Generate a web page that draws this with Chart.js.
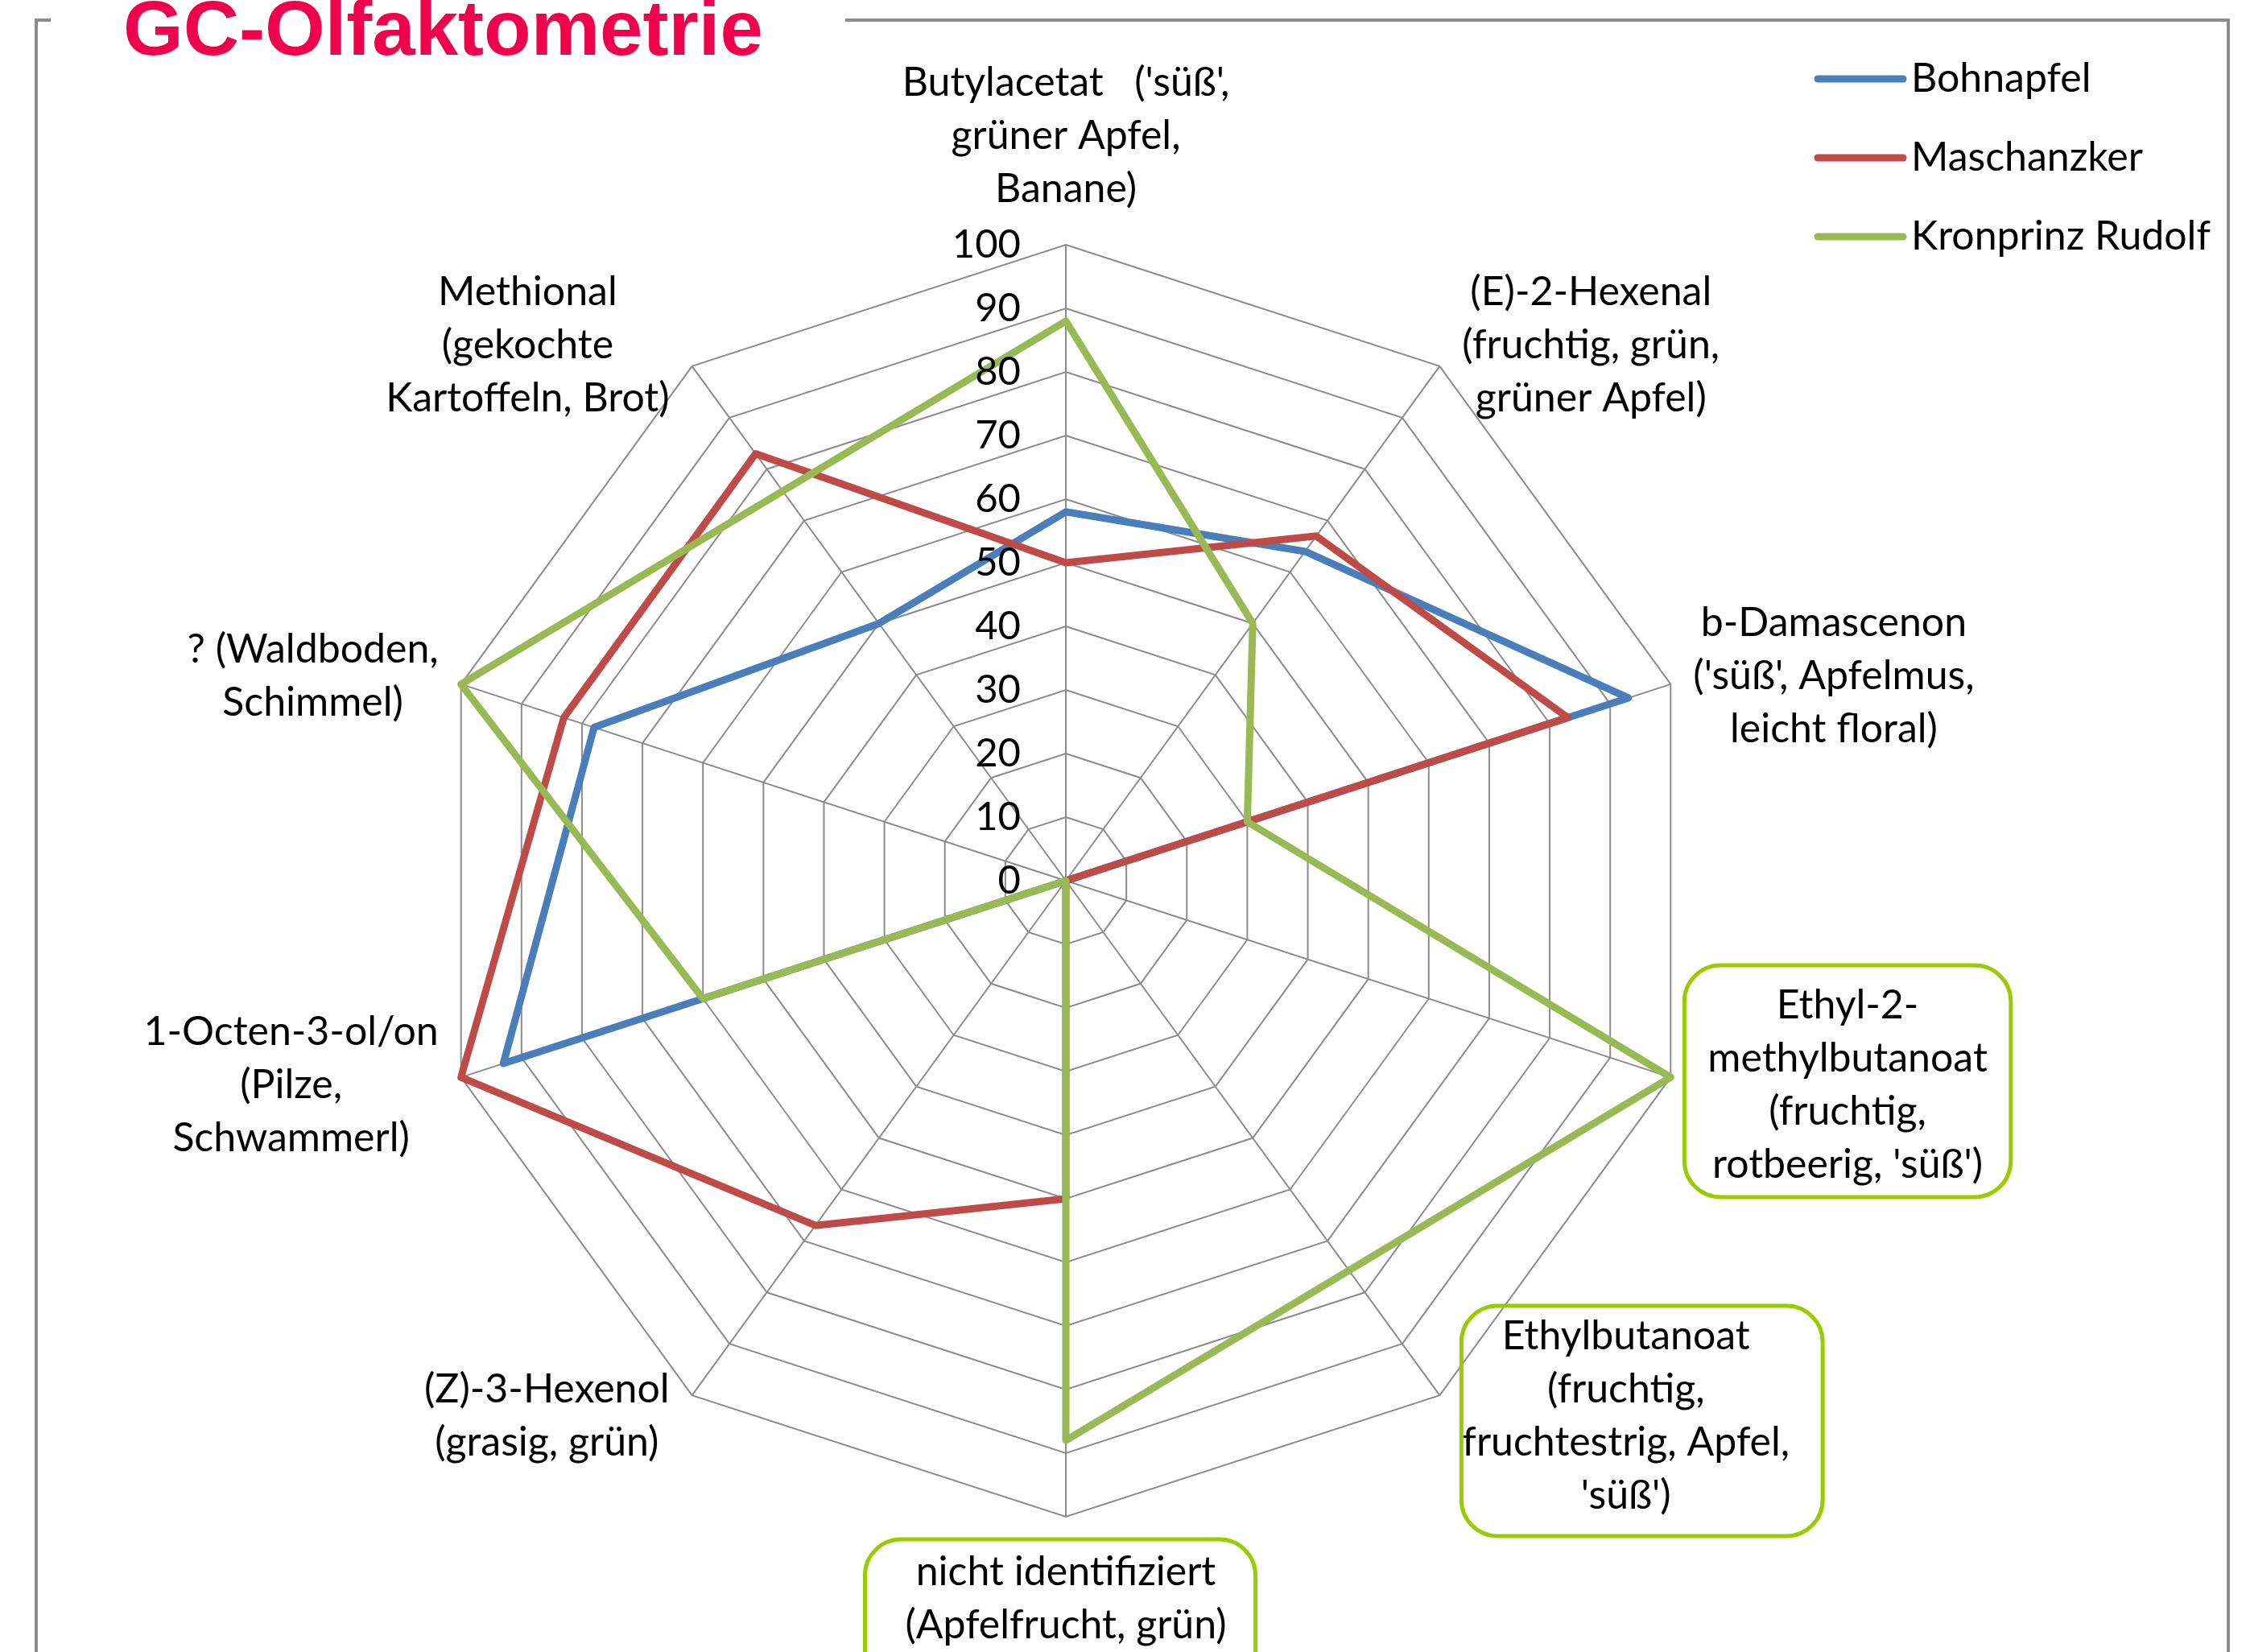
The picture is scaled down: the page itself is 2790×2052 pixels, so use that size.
<!DOCTYPE html>
<html>
<head>
<meta charset="utf-8">
<title>GC-Olfaktometrie</title>
<script src="https://cdn.jsdelivr.net/npm/chart.js@4.4.1/dist/chart.umd.min.js"></script>
<style>
  html, body { margin: 0; padding: 0; background: #fff; }
  canvas { display: block; }
</style>
</head>
<body>
<canvas id="radar" width="2790" height="2052"></canvas>
<script>
// Aromastoffe (Achsen), im Uhrzeigersinn ab oben
const aromaLabels = [
  ["Butylacetat   ('süß',", "grüner Apfel,", "Banane)"],
  ["(E)-2-Hexenal", "(fruchtig, grün,", "grüner Apfel)"],
  ["b-Damascenon", "('süß', Apfelmus,", "leicht floral)"],
  ["Ethyl-2-", "methylbutanoat", "(fruchtig,", "rotbeerig, 'süß')"],
  ["Ethylbutanoat", "(fruchtig,", "fruchtestrig, Apfel,", "'süß')"],
  ["nicht identifiziert", "(Apfelfrucht, grün)"],
  ["(Z)-3-Hexenol", "(grasig, grün)"],
  ["1-Octen-3-ol/on", "(Pilze,", "Schwammerl)"],
  ["? (Waldboden,", "Schimmel)"],
  ["Methional", "(gekochte", "Kartoffeln, Brot)"]
];

const sortNames = ['Bohnapfel', 'Maschanzker', 'Kronprinz Rudolf'];

// Intensitäten (0-100), null = kein Wert (Linie wird durchgezogen)
const bohnapfel   = [58, 64, 93, 0, 0, 0, 0, 93, 78, 50];
const maschanzker = [50, 67, 83, 0, 0, 50, 67, 100, 83, 83];
const kronprinz   = [88, 50, 30, 100, null, 88, 0, 60, 100, null];

const scaleMin = 0;
const scaleMax = 100;
const scaleStep = 10;

// Achsen, deren Beschriftung grün umrandet ist
const boxedLabels = [3, 4, 5];

const LABEL_FONT = '50px Lato';
const LINE_H = 66;
const GREY = '#8c8c8c';

// Rahmen, Titel, Achsenbeschriftung, Legende
const decoPlugin = {
  id: 'deco',
  afterDraw(chart) {
    const ctx = chart.ctx;
    const r = chart.scales.r;
    const R = r.drawingArea;

    ctx.save();

    // Rahmen
    ctx.strokeStyle = GREY;
    ctx.lineWidth = 4;
    ctx.beginPath();
    ctx.moveTo(45, 2052); ctx.lineTo(45, 25); ctx.lineTo(63, 25);
    ctx.moveTo(1050, 25); ctx.lineTo(2768, 25); ctx.lineTo(2768, 2052);
    ctx.stroke();

    // Titel
    ctx.fillStyle = '#f0004c';
    ctx.font = 'bold 96px "Liberation Sans", Arial, sans-serif';
    ctx.textAlign = 'left';
    ctx.textBaseline = 'alphabetic';
    ctx.fillText('GC-Olfaktometrie', 153, 68);

    // Skalenwerte links neben der senkrechten Achse
    ctx.fillStyle = '#000';
    ctx.font = '49px Lato';
    ctx.textAlign = 'right';
    ctx.textBaseline = 'middle';
    r.ticks.forEach(t => {
      const d = r.getDistanceFromCenterForValue(t.value);
      ctx.fillText(String(t.value), r.xCenter - 56, r.yCenter - d);
    });

    // Achsenbeschriftungen
    ctx.font = LABEL_FONT;
    ctx.textAlign = 'center';
    aromaLabels.forEach((lines, i) => {
      const end = r.getPointPosition(i, R);
      const ux = (end.x - r.xCenter) / R;
      const uy = (end.y - r.yCenter) / R;
      const w = Math.max(...lines.map(l => ctx.measureText(l).width));
      const h = lines.length * LINE_H;
      const gap = i === 3 ? 46 : 28;
      let cx, cy;
      if (Math.abs(ux) < 0.01) {
        cx = end.x;
        cy = end.y + Math.sign(uy) * (h / 2 + 36);
      } else {
        cx = end.x + Math.sign(ux) * (w / 2 + gap);
        cy = end.y + uy * 32;
      }
      lines.forEach((l, k) => {
        ctx.fillText(l, cx, cy - h / 2 + LINE_H * (k + 0.5));
      });

      if (boxedLabels.includes(i)) {
        const pad = { 3: [29, 29, 17, 7], 4: [1, 41, 5, 17], 5: [50, 36, 8, 200] }[i];
        const x0 = cx - w / 2 - pad[0];
        const y0 = cy - h / 2 - pad[2];
        const bw = w + pad[0] + pad[1];
        const bh = h + pad[2] + pad[3];
        ctx.strokeStyle = '#99cc00';
        ctx.lineWidth = 5;
        ctx.beginPath();
        ctx.roundRect(x0, y0, bw, bh, 45);
        ctx.stroke();
      }
    });

    // Legende
    ctx.textAlign = 'left';
    ctx.lineCap = 'round';
    chart.data.datasets.forEach((ds, k) => {
      const y = 98 + k * 98;
      ctx.strokeStyle = ds.borderColor;
      ctx.lineWidth = 9;
      ctx.beginPath();
      ctx.moveTo(2258, y);
      ctx.lineTo(2364, y);
      ctx.stroke();
      ctx.fillStyle = '#000';
      ctx.fillText(ds.label, 2374, y);
    });

    ctx.restore();
  }
};

const colors = ['#4a7ebb', '#be4b48', '#98b954'];
const series = [bohnapfel, maschanzker, kronprinz];

new Chart(document.getElementById('radar'), {
  type: 'radar',
  data: {
    labels: aromaLabels,
    datasets: series.map((values, k) => ({
      label: sortNames[k],
      data: values,
      borderColor: colors[k],
      backgroundColor: colors[k],
      borderWidth: 9,
      borderJoinStyle: 'round',
      borderCapStyle: 'round',
      fill: false,
      spanGaps: true,
      pointRadius: 0,
      pointHoverRadius: 0,
      order: 3 - k
    }))
  },
  options: {
    responsive: false,
    animation: false,
    events: [],
    layout: { padding: { left: 534, right: 676, top: 304, bottom: 168 } },
    plugins: {
      legend: { display: false },
      tooltip: { enabled: false }
    },
    scales: {
      r: {
        min: scaleMin,
        max: scaleMax,
        ticks: { stepSize: scaleStep, display: false },
        pointLabels: { display: false },
        grid: { color: GREY, lineWidth: 2 },
        angleLines: { color: GREY, lineWidth: 2 }
      }
    }
  },
  plugins: [decoPlugin]
});
</script>
</body>
</html>
